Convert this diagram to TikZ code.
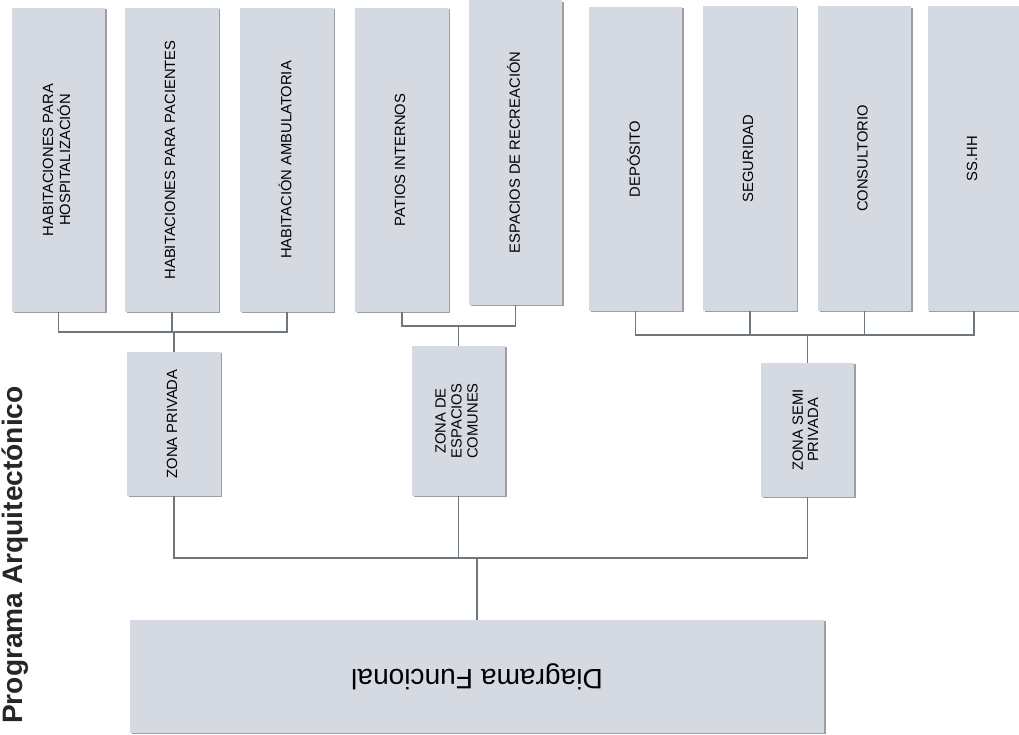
\documentclass[tikz,border=0pt]{standalone}
\usepackage{fontspec}
\usepackage{graphicx}
\setmainfont{Liberation Sans}
\usetikzlibrary{shadows}

\definecolor{boxfill}{HTML}{D5DAE2}
\definecolor{linegray}{HTML}{6E767E}

% vertical label, read from bottom to top
\newcommand{\vlbl}[2][0.8]{\rotatebox{90}{\renewcommand{\arraystretch}{#1}\begin{tabular}{@{}c@{}}#2\end{tabular}}}

\tikzset{
  zbox/.style={fill=boxfill, inner sep=0pt, minimum width=2.325cm,
    drop shadow={shadow xshift=1.3pt, shadow yshift=-0.9pt, fill=gray!85, opacity=0.9},
    font=\fontsize{10.5}{12}\selectfont},
  tall/.style={zbox, minimum height=7.6cm},
  link/.style={draw=linegray, line width=0.8pt},
}

\begin{document}
\begin{tikzpicture}[x=0.025cm, y=-0.025cm]
\useasboundingbox (0,0) rectangle (1019,735);

\node[rotate=90, anchor=base, font=\fontsize{20}{23}\selectfont\bfseries, text=black!85] (title) at (22,555) {Programa Arquitectónico};

\node[tall] (hosp) at (58.5,160) {\vlbl{HABITACIONES PARA\\HOSPITALIZACIÓN}};
\node[tall] (pac) at (172,160) {\vlbl{HABITACIONES PARA PACIENTES}};
\node[tall] (amb) at (287,160) {\vlbl{HABITACIÓN AMBULATORIA}};

\node[tall] (pat) at (402,160) {\vlbl{PATIOS INTERNOS}};
\node[tall] (esp) at (515.5,152.5) {\vlbl{ESPACIOS DE RECREACIÓN}};

\node[tall] (dep) at (635.5,159) {\vlbl{DEPÓSITO}};
\node[tall] (seg) at (750,158.5) {\vlbl{SEGURIDAD}};
\node[tall] (con) at (864.5,158.5) {\vlbl{CONSULTORIO}};
\node[tall] (ssh) at (974,158.5) {\vlbl{SS.HH}};

\node[zbox, minimum height=3.6cm] (priv) at (174,424) {\vlbl{ZONA PRIVADA}};
\node[zbox, minimum height=3.75cm] (com) at (458.5,421) {\vlbl[0.95]{ZONA DE\\ESPACIOS\\COMUNES}};
\node[zbox, minimum height=3.35cm] (semi) at (807.5,430) {\vlbl[0.9]{ZONA SEMI\\PRIVADA}};

\node[zbox, minimum width=17.35cm, minimum height=2.825cm, font=\fontsize{20}{23}\selectfont] (diag) at (477,676.5) {\rotatebox{180}{Diagrama Funcional}};

\coordinate (j1) at (174,332);
\coordinate (j2) at (458.5,326);
\coordinate (j3) at (807.5,335);
\coordinate (j4) at (477,558);

\draw[link] (hosp.south) |- (j1) -| (amb.south);
\draw[link] (pac.south) -- (pac.south |- j1);
\draw[link] (j1) -- (priv.north);

\draw[link] (pat.south) |- (j2) -| (esp.south);
\draw[link] (j2) -- (com.north);

\draw[link] (dep.south) |- (j3) -| (ssh.south);
\draw[link] (seg.south) -- (seg.south |- j3);
\draw[link] (con.south) -- (con.south |- j3);
\draw[link] (j3) -- (semi.north);

\draw[link] (priv.south) |- (j4) -| (semi.south);
\draw[link] (com.south) -- (com.south |- j4);
\draw[link] (j4) -- (diag.north);
\end{tikzpicture}
\end{document}
